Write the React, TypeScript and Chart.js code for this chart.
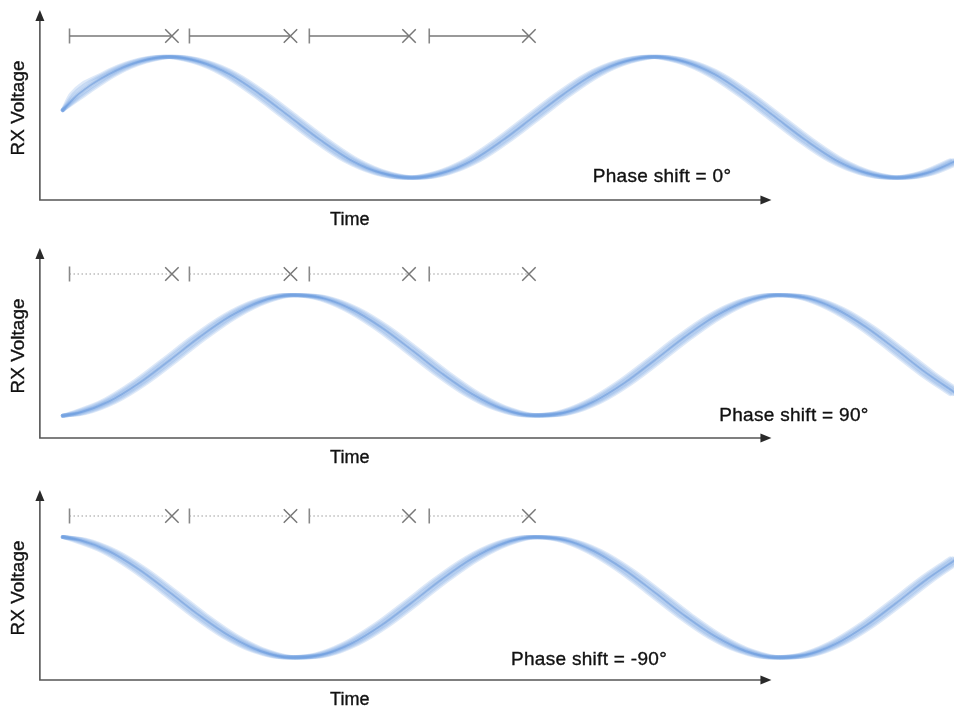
import React, { useEffect, useRef } from "react";
import { Chart, registerables } from "chart.js";

Chart.register(...registerables);

// ---- data (time in degrees of phase, voltage normalised) ----
const TIME = [
  11, 22.5, 45, 67.5, 90, 112.5, 135, 157.5, 180, 202.5, 225, 247.5, 270, 292.5, 315, 337.5,
  360, 382.5, 405, 427.5, 450, 472.5, 495, 517.5, 540, 562.5, 585, 607.5, 630, 652.5, 675,
];
const V_SHIFT_0 = [
  0.12, 0.38, 0.71, 0.92, 1.0, 0.92, 0.71, 0.38, 0.0, -0.38, -0.71, -0.92, -1.0, -0.92, -0.71, -0.38,
  0.0, 0.38, 0.71, 0.92, 1.0, 0.92, 0.71, 0.38, 0.0, -0.38, -0.71, -0.92, -1.0, -0.92, -0.71,
];
const V_SHIFT_90 = [
  -0.998, -0.954, -0.766, -0.462, -0.087, 0.301, 0.643, 0.887, 0.996, 0.954, 0.766, 0.462, 0.087,
  -0.301, -0.643, -0.887, -0.996, -0.954, -0.766, -0.462, -0.087, 0.301, 0.643, 0.887, 0.996, 0.954,
  0.766, 0.462, 0.087, -0.301, -0.643,
];
const V_SHIFT_M90 = [
  0.998, 0.954, 0.766, 0.462, 0.087, -0.301, -0.643, -0.887, -0.996, -0.954, -0.766, -0.462, -0.087,
  0.301, 0.643, 0.887, 0.996, 0.954, 0.766, 0.462, 0.087, -0.301, -0.643, -0.887, -0.996, -0.954,
  -0.766, -0.462, -0.087, 0.301, 0.643,
];
const PHASE_LABELS = ["Phase shift = 0°", "Phase shift = 90°", "Phase shift = -90°"];
const MARK_START = [16, 105, 194, 283];
const MARK_END = [92, 180, 268, 357];
const Y_TITLE = "RX Voltage";
const X_TITLE = "Time";

// ---- layout / style ----
const W = 954;
const H = 228;
const X_MIN = -35.6;
const X_MAX = 672.5;
const Y_MIN = -1.83;
const Y_MAX = 1.94;
const AXIS_T = -6;
const ARROW_T = 537;
const AXIS_V = -1.367;
const ARROW_V = 1.775;
const MARK_V = 1.345;
const TIME_T = 224;
const TIME_V = -1.69;
const YTITLE_T = -21.5;
const YTITLE_V = 0.154;
const JITTER = [-5.4, -3.6, -1.8, 0, 1.8, 3.6, 5.4];
const FONT = '"Liberation Sans", Arial, sans-serif';

const PANELS = [
  { top: 0, values: V_SHIFT_0, label: PHASE_LABELS[0], labelT: 455.8, labelV: -0.987, dotted: false },
  { top: 238, values: V_SHIFT_90, label: PHASE_LABELS[1], labelT: 553.7, labelV: -1.003, dotted: true },
  { top: 480, values: V_SHIFT_M90, label: PHASE_LABELS[2], labelT: 401.6, labelV: -1.036, dotted: true },
];

type PanelCfg = (typeof PANELS)[number];

function drawText(ctx: CanvasRenderingContext2D, s: string, x: number, y: number) {
  ctx.fillText(s, x, y);
  ctx.strokeText(s, x, y);
}

function makePlugin(cfg: PanelCfg) {
  return {
    id: "decor",
    beforeDatasetsDraw(chart: any) {
      const ctx = chart.ctx as CanvasRenderingContext2D;
      const xs = chart.scales.x;
      const ys = chart.scales.y;
      const ox = xs.getPixelForValue(AXIS_T);
      const oy = ys.getPixelForValue(AXIS_V);
      const tx = xs.getPixelForValue(ARROW_T);
      const ty = ys.getPixelForValue(ARROW_V);
      ctx.save();
      ctx.strokeStyle = "#555";
      ctx.lineWidth = 1.6;
      ctx.beginPath();
      ctx.moveTo(ox, ty + 6);
      ctx.lineTo(ox, oy);
      ctx.lineTo(tx - 6, oy);
      ctx.stroke();
      ctx.fillStyle = "#2a2a2a";
      ctx.beginPath();
      ctx.moveTo(ox, ty);
      ctx.lineTo(ox - 4.5, ty + 11);
      ctx.lineTo(ox + 4.5, ty + 11);
      ctx.closePath();
      ctx.fill();
      ctx.beginPath();
      ctx.moveTo(tx, oy);
      ctx.lineTo(tx - 11, oy - 4.5);
      ctx.lineTo(tx - 11, oy + 4.5);
      ctx.closePath();
      ctx.fill();
      ctx.restore();
    },
    afterDatasetsDraw(chart: any) {
      const ctx = chart.ctx as CanvasRenderingContext2D;
      const xs = chart.scales.x;
      const ys = chart.scales.y;
      ctx.save();
      ctx.fillStyle = "#111";
      ctx.strokeStyle = "#111";
      ctx.lineWidth = 0.35;
      ctx.textAlign = "center";
      ctx.textBaseline = "middle";
      ctx.font = `18px ${FONT}`;
      drawText(ctx, X_TITLE, xs.getPixelForValue(TIME_T), ys.getPixelForValue(TIME_V));
      (ctx as any).letterSpacing = "0.3px";
      ctx.font = `19px ${FONT}`;
      drawText(ctx, cfg.label, xs.getPixelForValue(cfg.labelT), ys.getPixelForValue(cfg.labelV));
      (ctx as any).letterSpacing = "0px";
      ctx.translate(xs.getPixelForValue(YTITLE_T), ys.getPixelForValue(YTITLE_V));
      ctx.rotate(-Math.PI / 2);
      ctx.font = `19px ${FONT}`;
      drawText(ctx, Y_TITLE, 0, 0);
      ctx.restore();
    },
  };
}

function Panel({ cfg }: { cfg: PanelCfg }) {
  const ref = useRef<HTMLCanvasElement>(null);
  useEffect(() => {
    const grey = cfg.dotted ? "#9a9a9a" : "#777";
    const datasets: any[] = [];
    // marker interval lines
    MARK_START.forEach((s, i) => {
      datasets.push({
        data: [
          { x: s, y: MARK_V },
          { x: MARK_END[i], y: MARK_V },
        ],
        borderColor: grey,
        borderWidth: cfg.dotted ? 1.2 : 1.4,
        borderDash: cfg.dotted ? [1.5, 2.5] : [],
        pointRadius: 0,
        tension: 0,
      });
    });
    datasets.push({
      data: MARK_START.map((s) => ({ x: s, y: MARK_V })),
      showLine: false,
      pointStyle: "line",
      rotation: 90,
      pointRadius: 7.5,
      borderColor: "#888",
      borderWidth: 1.6,
    });
    datasets.push({
      data: MARK_END.map((e) => ({ x: e, y: MARK_V })),
      showLine: false,
      pointStyle: "crossRot",
      pointRadius: 9.5,
      borderColor: "#777",
      borderWidth: 1.5,
    });
    // blurred waveform (time jitter); the first sample is shared so the start stays round
    JITTER.forEach((j) => {
      datasets.push({
        data: TIME.map((t, i) => ({ x: i === 0 ? t : t + j, y: cfg.values[i] })),
        borderColor: "rgba(105,155,222,0.22)",
        borderWidth: 4,
        pointRadius: 0,
        cubicInterpolationMode: "monotone",
        borderCapStyle: "round",
      });
    });
    datasets.push({
      data: TIME.map((t, i) => ({ x: t, y: cfg.values[i] })),
      borderColor: "rgba(80,130,205,0.45)",
      borderWidth: 2,
      pointRadius: 0,
      cubicInterpolationMode: "monotone",
      borderCapStyle: "round",
    });

    const chart = new Chart(ref.current!, {
      type: "line",
      data: { datasets },
      options: {
        animation: false,
        responsive: false,
        events: [],
        layout: { padding: 0, autoPadding: false },
        plugins: { legend: { display: false }, tooltip: { enabled: false } },
        scales: {
          x: { type: "linear", min: X_MIN, max: X_MAX, display: false },
          y: { type: "linear", min: Y_MIN, max: Y_MAX, display: false },
        },
      },
      plugins: [makePlugin(cfg)],
    } as any);
    return () => chart.destroy();
  }, []);
  return (
    <canvas
      ref={ref}
      width={W}
      height={H}
      style={{ position: "absolute", left: 0, top: cfg.top, width: W, height: H }}
    />
  );
}

export default function App() {
  return (
    <div
      style={{
        position: "absolute",
        left: 0,
        top: 0,
        width: W,
        height: 707,
        overflow: "hidden",
        background: "#fff",
      }}
    >
      {PANELS.map((p, i) => (
        <Panel key={i} cfg={p} />
      ))}
    </div>
  );
}
